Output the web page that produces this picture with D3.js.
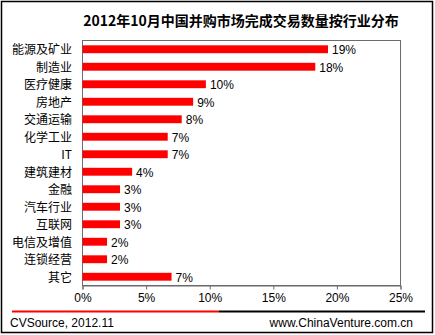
<!DOCTYPE html>
<html><head><meta charset="utf-8">
<script src="https://cdn.jsdelivr.net/npm/d3@7"></script>
<style>body{margin:0;background:#fff}svg{display:block}</style>
</head><body>
<script>
const categories = ["能源及矿业","制造业","医疗健康","房地产","交通运输","化学工业","IT","建筑建材","金融","汽车行业","互联网","电信及增值","连锁经营","其它"];
const values = [19.3, 18.3, 9.7, 8.7, 7.8, 6.7, 6.7, 3.9, 2.95, 2.95, 2.95, 1.93, 1.93, 7.0];
const valueLabels = ["19%","18%","10%","9%","8%","7%","7%","4%","3%","3%","3%","2%","2%","7%"];
const ticks = [0, 5, 10, 15, 20, 25];
const title = "2012年10月中国并购市场完成交易数量按行业分布";
const source = "CVSource, 2012.11";
const site = "www.ChinaVenture.com.cn";

const W = 435, H = 335;
const svg = d3.select("body").append("svg").attr("width", W).attr("height", H);
const cjk = "'Noto Sans CJK SC', 'Liberation Sans', sans-serif";
const lat = "'Liberation Sans', Arial, sans-serif";

svg.append("rect").attr("x",1.5).attr("y",1.5).attr("width",431).attr("height",331)
  .attr("fill","#fff").attr("stroke","#000").attr("stroke-width",1.5);

svg.append("text").attr("x",241).attr("y",26).attr("text-anchor","middle")
  .attr("font-family",cjk).attr("font-weight","bold").attr("font-size",14).text(title);

const x0 = 82.5, x1 = 400.5, y0 = 40.5, y1 = 285.5;
const x = d3.scaleLinear().domain([0,25]).range([x0,x1]);
const y = d3.scaleBand().domain(categories).range([y0,y1]).paddingInner(0.55).paddingOuter(0.275);

svg.append("rect").attr("x",x0).attr("y",y0).attr("width",x1-x0).attr("height",y1-y0)
  .attr("fill","none").attr("stroke","#6b6b6b").attr("stroke-width",1);

svg.selectAll("rect.bar").data(categories).join("rect").attr("class","bar")
  .attr("x", x(0)).attr("y", d=>y(d)).attr("width", (d,i)=>x(values[i])-x(0))
  .attr("height", y.bandwidth()).attr("fill","#ff0000");

svg.selectAll("text.val").data(categories).join("text").attr("class","val")
  .attr("x",(d,i)=>x(values[i])+4).attr("y",d=>y(d)+y.bandwidth()/2+5)
  .attr("font-family",lat).attr("font-size",12).attr("fill","#000")
  .text((d,i)=>valueLabels[i]);

svg.selectAll("text.cat").data(categories).join("text").attr("class","cat")
  .attr("x",72).attr("y",d=>y(d)+y.bandwidth()/2+5).attr("text-anchor","end")
  .attr("font-family",cjk).attr("font-size",12).attr("fill","#000").text(d=>d);

const ax = svg.append("g").attr("transform",`translate(0,${y1})`)
  .call(d3.axisBottom(x).tickValues(ticks).tickFormat(d=>d+"%").tickSize(4).tickPadding(4));
ax.select(".domain").attr("stroke","#6b6b6b");
ax.selectAll(".tick line").attr("stroke","#6b6b6b");
ax.selectAll(".tick text").attr("font-family",lat).attr("font-size",12).attr("fill","#000");

svg.append("line").attr("x1",12).attr("x2",219).attr("y1",311.5).attr("y2",311.5).attr("stroke","#ff0000").attr("stroke-width",2);
svg.append("line").attr("x1",219).attr("x2",425).attr("y1",311.5).attr("y2",311.5).attr("stroke","#000").attr("stroke-width",2);

svg.append("text").attr("x",10).attr("y",327).attr("font-family",lat).attr("font-size",12).text(source);
svg.append("text").attr("x",413).attr("y",327).attr("text-anchor","end").attr("font-family",lat).attr("font-size",12).text(site);
</script>
</body></html>
